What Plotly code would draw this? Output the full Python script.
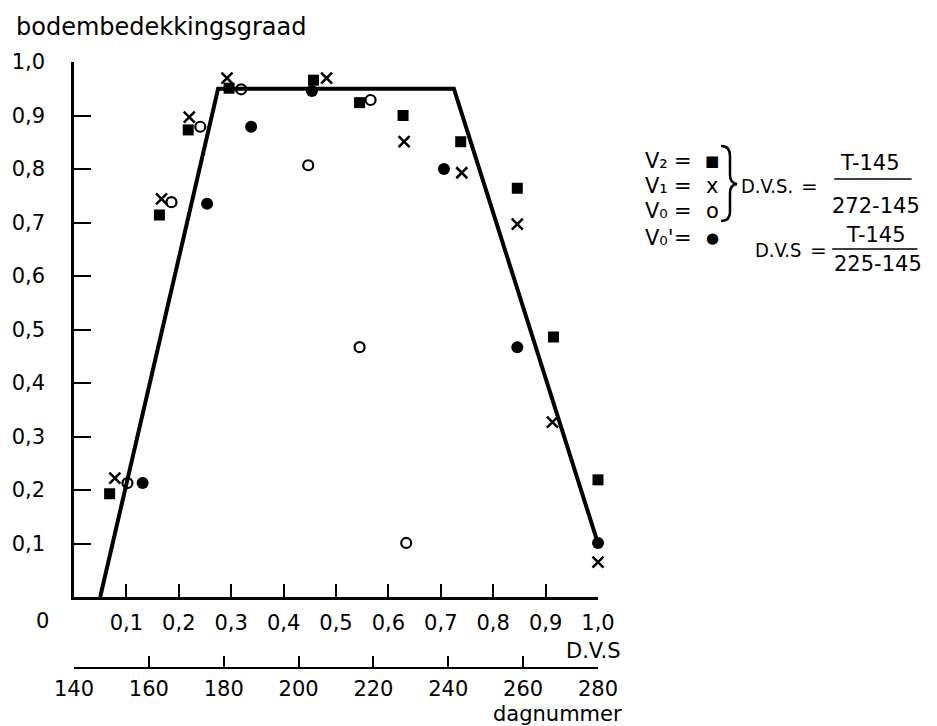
import plotly.graph_objects as go

# ---- data ----
v2_dvs = [0.068, 0.163, 0.218, 0.296, 0.457, 0.545, 0.628, 0.738, 0.846, 0.915, 1.0]
v2_cov = [0.193, 0.714, 0.873, 0.951, 0.966, 0.924, 0.900, 0.851, 0.764, 0.486, 0.219]

v1_dvs = [0.078, 0.167, 0.220, 0.292, 0.482, 0.630, 0.740, 0.846, 0.913, 1.0]
v1_cov = [0.222, 0.744, 0.897, 0.970, 0.970, 0.851, 0.793, 0.697, 0.327, 0.065]

v0_dvs = [0.102, 0.186, 0.241, 0.319, 0.447, 0.566, 0.545, 0.634]
v0_cov = [0.213, 0.738, 0.879, 0.949, 0.807, 0.929, 0.467, 0.101]

v0p_dvs = [0.131, 0.254, 0.338, 0.454, 0.706, 0.846, 1.000]
v0p_cov = [0.213, 0.735, 0.879, 0.946, 0.800, 0.467, 0.101]

line_dvs = [0.05, 0.275, 0.725, 1.0]
line_cov = [0.0, 0.95, 0.95, 0.10]

dvs_ticks = [0.1, 0.2, 0.3, 0.4, 0.5, 0.6, 0.7, 0.8, 0.9, 1.0]
dvs_labels = ["0,1", "0,2", "0,3", "0,4", "0,5", "0,6", "0,7", "0,8", "0,9", "1,0"]
cov_ticks = [0.1, 0.2, 0.3, 0.4, 0.5, 0.6, 0.7, 0.8, 0.9, 1.0]
cov_labels = ["0,1", "0,2", "0,3", "0,4", "0,5", "0,6", "0,7", "0,8", "0,9", "1,0"]
day_ticks = [140, 160, 180, 200, 220, 240, 260, 280]
day_labels = ["140", "160", "180", "200", "220", "240", "260", "280"]

FONT = "DejaVu Sans"
FONT_C = "DejaVu Sans Condensed"
W, H = 937, 726
L, R, T, B = 70, 598, 62, 668  # plot-area pixel box (paper)
MAIN_AXIS_Y = 597


def px(x):
    return (x - L) / (R - L)


def py(y):
    return (B - y) / (B - T)


fig = go.Figure()

fig.add_trace(go.Scatter(x=line_dvs, y=line_cov, mode="lines",
                         line=dict(color="black", width=4), cliponaxis=False,
                         hoverinfo="skip", showlegend=False))
fig.add_trace(go.Scatter(x=v2_dvs, y=v2_cov, mode="markers", cliponaxis=False,
                         marker=dict(symbol="square", size=11, color="black"),
                         showlegend=False))
fig.add_trace(go.Scatter(x=v1_dvs, y=v1_cov, mode="markers", cliponaxis=False,
                         marker=dict(symbol="x-thin", size=11, color="black",
                                     line=dict(color="black", width=2.5)),
                         showlegend=False))
fig.add_trace(go.Scatter(x=v0_dvs, y=v0_cov, mode="markers", cliponaxis=False,
                         marker=dict(symbol="circle-open", size=10, color="black",
                                     line=dict(color="black", width=2.2)),
                         showlegend=False))
fig.add_trace(go.Scatter(x=v0p_dvs, y=v0p_cov, mode="markers", cliponaxis=False,
                         marker=dict(symbol="circle", size=12, color="black"),
                         showlegend=False))
# invisible trace so the day-number axis is drawn
fig.add_trace(go.Scatter(x=[day_ticks[0], day_ticks[-1]], y=[0, 0], xaxis="x2",
                         mode="markers", marker=dict(opacity=0), hoverinfo="skip",
                         showlegend=False))

ydom0 = (B - MAIN_AXIS_Y) / (B - T)
tickfont = dict(family=FONT, size=21, color="black")

fig.update_layout(
    width=W, height=H,
    margin=dict(l=L, r=W - R, t=T, b=H - B, pad=0),
    paper_bgcolor="white", plot_bgcolor="white",
    font=dict(family=FONT, color="black"),
    xaxis=dict(range=[0, 1], tickmode="array", tickvals=dvs_ticks, ticktext=dvs_labels,
               ticks="inside", ticklen=13, tickwidth=2, tickcolor="black",
               showline=True, linewidth=2.5, linecolor="black", showgrid=False,
               zeroline=False, anchor="y", tickfont=tickfont, ticklabelstandoff=5),
    yaxis=dict(range=[0, 1], domain=[ydom0, 1], tickmode="array", tickvals=cov_ticks,
               ticktext=cov_labels, ticks="inside", ticklen=17, tickwidth=2,
               tickcolor="black", showline=True, linewidth=2.5, linecolor="black",
               showgrid=False, zeroline=False, tickfont=tickfont, ticklabelstandoff=22),
    xaxis2=dict(range=[140, 280], overlaying="x", anchor="free", position=0, side="bottom",
                tickmode="array", tickvals=day_ticks, ticktext=day_labels,
                ticks="inside", ticklen=11, tickwidth=2, tickcolor="black",
                showline=True, linewidth=2, linecolor="black", showgrid=False,
                zeroline=False, tickfont=tickfont, ticklabelstandoff=2),
)

ann = []


def add_text(text, x, y, size=21, xanchor="left", yanchor="middle", family=FONT):
    ann.append(dict(text=text, x=px(x), y=py(y), xref="paper", yref="paper",
                    xanchor=xanchor, yanchor=yanchor, showarrow=False,
                    font=dict(family=family, size=size, color="black")))


add_text("bodembedekkingsgraad", 10, 27, size=24)
add_text("0", 38, 621, size=21, xanchor="center")
add_text("D.V.S", 623, 651, size=21, xanchor="right")
add_text("dagnummer", 624, 714, size=21, xanchor="right")

# legend block
rows = [("V₂", "■", 161, 15), ("V₁", "x", 186, 21),
        ("V₀", "o", 211, 21), ("V₀'", "●", 238, 15)]
for lab, sym, y, s in rows:
    add_text(lab, 643, y, size=21)
    add_text("=", 684, y, size=21, xanchor="center")
    add_text(sym, 713, y, size=s, xanchor="center")

add_text("D.V.S.", 740, 186, size=20, family=FONT_C)
add_text("=", 811, 186, size=20, xanchor="center")
add_text("T-145", 872, 163, size=21, xanchor="center")
add_text("272-145", 878, 206, size=21, xanchor="center")
add_text("D.V.S", 754, 250, size=20, family=FONT_C)
add_text("=", 820, 250, size=20, xanchor="center")
add_text("T-145", 878, 235, size=21, xanchor="center")
add_text("225-145", 880, 264, size=21, xanchor="center")

fig.update_layout(annotations=ann)

# fraction bars and brace
shapes = [
    dict(type="line", xref="paper", yref="paper", x0=px(836), x1=px(914),
         y0=py(179), y1=py(179), line=dict(color="black", width=1.5)),
    dict(type="line", xref="paper", yref="paper", x0=px(834), x1=px(920),
         y0=py(249), y1=py(249), line=dict(color="black", width=1.5)),
]
pts = [(722, 146), (731, 146), (731, 156), (731, 175), (731, 183), (738, 184),
       (731, 185), (731, 193), (731, 212), (731, 221), (722, 221)]
p = [(px(a), py(b)) for a, b in pts]
path = (f"M {p[0][0]},{p[0][1]} Q {p[1][0]},{p[1][1]} {p[2][0]},{p[2][1]} "
        f"L {p[3][0]},{p[3][1]} Q {p[4][0]},{p[4][1]} {p[5][0]},{p[5][1]} "
        f"Q {p[6][0]},{p[6][1]} {p[7][0]},{p[7][1]} L {p[8][0]},{p[8][1]} "
        f"Q {p[9][0]},{p[9][1]} {p[10][0]},{p[10][1]}")
shapes.append(dict(type="path", xref="paper", yref="paper", path=path,
                   line=dict(color="black", width=2.5)))
fig.update_layout(shapes=shapes)

fig.write_html("out.html")
